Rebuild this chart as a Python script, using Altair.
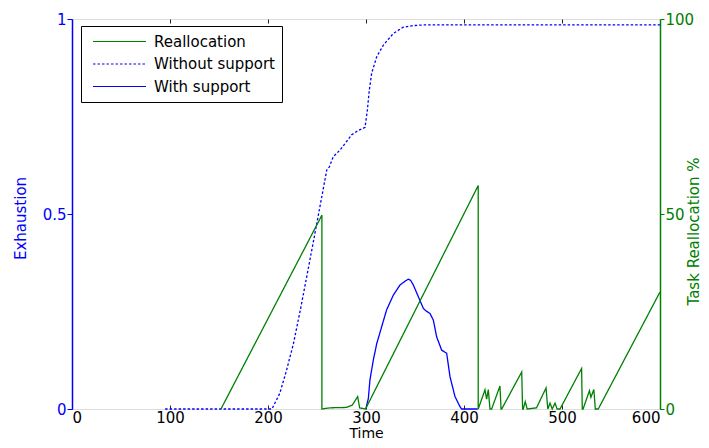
import altair as alt
import pandas as pd

# ---- data ----
# Task reallocation (%), right axis
realloc_t = [152, 255, 255, 263, 280, 286, 291.5, 293.5, 299.5, 414.5, 414.5,
             421.4, 423.1, 424.8, 426.5, 428.2, 436.7, 437.8, 438.5, 458.9, 459.8,
             460.5, 462.5, 464.5, 474, 483.7, 485.5, 487.8, 490, 492.9, 495, 498,
             520, 520.7, 521.5, 528, 529.5, 532.5, 534, 537, 600]
realloc_v = [0, 49.7, 0, 0.3, 0.4, 1.0, 3.2, 0.3, 0, 57.3, 0,
             4.9, 2.5, 5.0, 0, 0, 5.9, 0, 0, 9.5, 0,
             0, 1.9, 0, 0.3, 5.4, 0, 1.5, 0, 1.5, 0, 0,
             10.4, 0, 0, 4.7, 3.0, 5.0, 0, 0, 30]

# Exhaustion without support, left axis
without_t = [95, 204, 212, 219, 226, 233, 239.5, 246, 253, 260, 262.6, 266.6,
             273.5, 285.4, 292, 299, 301.4, 303.4, 305.8, 310.9, 317.7, 327.9,
             338, 348, 360, 600]
without_v = [0, 0, 0.040, 0.10, 0.168, 0.254, 0.339, 0.425, 0.519, 0.613, 0.621,
             0.647, 0.664, 0.703, 0.714, 0.722, 0.767, 0.818, 0.861, 0.903, 0.933,
             0.963, 0.979, 0.983, 0.985, 0.985]

# Exhaustion with support, left axis
with_t = [300, 300.7, 302.4, 304, 307.5, 311, 316, 321, 327.9, 334.7, 340, 343.2,
          345.5, 348.3, 353.4, 358.5, 361, 365.3, 368.7, 372.1, 377.2, 382.3,
          385.7, 390.8, 395.9, 397.6, 414]
with_v = [0, 0.01, 0.027, 0.074, 0.126, 0.168, 0.211, 0.254, 0.292, 0.318, 0.328,
          0.333, 0.330, 0.318, 0.288, 0.258, 0.252, 0.245, 0.228, 0.185, 0.151,
          0.143, 0.083, 0.032, 0.006, 0, 0]

series_names = ["Reallocation", "Without support", "With support"]
series_colors = ["#008000", "#0000ff", "#0000ff"]
series_dashes = [[1, 0], [2.5, 2], [1, 0]]

x_ticks = [0, 100, 200, 300, 400, 500, 600]
x_top_ticks = [100, 200, 300, 400, 500]
left_ticks = [0, 0.5, 1]
right_ticks = [0, 50, 100]

FONT = "DejaVu Sans"
BLUE = "#0000ff"
GREEN = "#008000"
DARK = "#262626"


def frame(ts, vs, name):
    return pd.DataFrame({"t": ts, "v": vs, "series": name, "i": list(range(len(ts)))})


blue_df = pd.concat([frame(without_t, without_v, "Without support"),
                     frame(with_t, with_v, "With support")], ignore_index=True)
green_df = frame(realloc_t, realloc_v, "Reallocation")

legend = alt.Legend(
    title=None, orient="none", legendX=9, legendY=7,
    symbolType="M-0.467,0H6.6", symbolSize=225, symbolStrokeWidth=1.2,
    labelOffset=49, labelFontSize=15, labelFont=FONT, labelColor="black",
    rowPadding=5.5, padding=7, strokeColor="black", fillColor="white",
    labelLimit=300,
)

color = alt.Color("series:N", scale=alt.Scale(domain=series_names, range=series_colors),
                  legend=legend)
dash = alt.StrokeDash("series:N", scale=alt.Scale(domain=series_names, range=series_dashes),
                      legend=legend)

x_scale = alt.Scale(domain=[0, 600], nice=False, zero=False)

blue = alt.Chart(blue_df).mark_line(strokeWidth=1.3).encode(
    x=alt.X("t:Q", scale=x_scale, axis=alt.Axis(
        orient="bottom", values=x_ticks, title="Time", domain=False, offset=-4,
        tickSize=4, tickColor=DARK, tickWidth=1, labelPadding=13,
        labelBaseline="alphabetic", labelFontSize=15, labelFont=FONT,
        labelColor="black", titleFontSize=14, titleFont=FONT,
        titleFontWeight="normal", titleColor="black", titleBaseline="alphabetic",
        titleY=32.5, grid=False)),
    y=alt.Y("v:Q", scale=alt.Scale(domain=[0, 1], nice=False), axis=alt.Axis(
        orient="left", values=left_ticks, format="~g", title="Exhaustion",
        domainColor=BLUE, domainWidth=1.5, tickColor=BLUE, tickSize=5,
        labelPadding=1, labelColor=BLUE, labelFontSize=15, labelFont=FONT,
        titleColor=BLUE, titleFontSize=15, titleFont=FONT, titleFontWeight="normal",
        titleAngle=270, titleBaseline="alphabetic", titleX=-47, titleY=199,
        titleAlign="center", grid=False)),
    color=color,
    strokeDash=dash,
    order=alt.Order("i:Q"),
)

green = alt.Chart(green_df).mark_line(strokeWidth=1.3).encode(
    x=alt.X("t:Q", scale=x_scale, axis=alt.Axis(
        orient="top", values=x_top_ticks, labels=False, title=None, domain=False,
        offset=-4, tickSize=4, tickColor=DARK, tickWidth=1, grid=False)),
    y=alt.Y("v:Q", scale=alt.Scale(domain=[0, 100], nice=False), axis=alt.Axis(
        orient="right", values=right_ticks, title="Task Reallocation %",
        domainColor=GREEN, domainWidth=1.5, tickColor=GREEN, tickSize=4,
        labelPadding=1, labelColor=GREEN, labelFontSize=15, labelFont=FONT,
        titleColor=GREEN, titleFontSize=15, titleFont=FONT, titleFontWeight="normal",
        titleAngle=270, titleBaseline="alphabetic", titleX=38, titleY=212,
        titleAlign="center", grid=False)),
    color=color,
    strokeDash=dash,
    order=alt.Order("i:Q"),
)

chart = alt.layer(blue, green).resolve_scale(
    y="independent"
).resolve_axis(
    x="independent", y="independent"
).properties(
    width=588, height=390,
    autosize=alt.AutoSizeParams(type="none"),
    padding={"left": 64, "top": 11, "right": 41, "bottom": 31},
).configure_view(
    stroke=DARK, strokeWidth=1
).configure(
    font=FONT, background="white"
)

chart.save("out.html", embed_options={"renderer": "svg", "actions": False})
